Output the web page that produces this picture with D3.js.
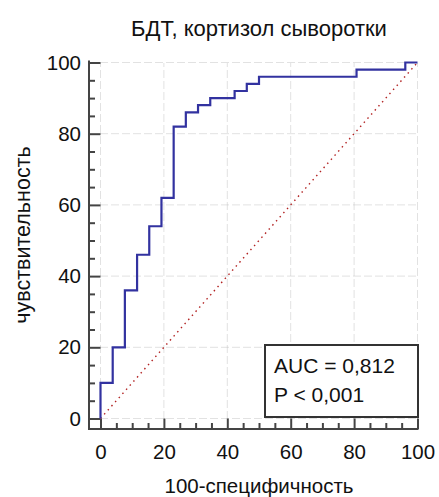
<!DOCTYPE html>
<html>
<head>
<meta charset="utf-8">
<script src="https://cdn.jsdelivr.net/npm/d3@7"></script>
<style>
  body { margin: 0; background: #fff; }
  text { font-family: "Liberation Sans", Arial, sans-serif; fill: #111; }
</style>
</head>
<body>
<script>
// ROC points (100-specificity, sensitivity)
const fpr = [0, 0, 3.85, 7.69, 11.54, 15.38, 19.23, 23.08, 26.92, 30.77, 34.62, 42.31, 46.15, 50, 80.77, 96.15, 100]
const tpr = [0, 10, 20, 36, 46, 54, 62, 82, 86, 88, 90, 92, 94, 96, 98, 100, 100]
const majorTicks = [0, 20, 40, 60, 80, 100]
const minorTicks = d3.range(0, 101, 5).filter(v => v % 20 !== 0)
const title = "БДТ, кортизол сыворотки"
const xTitle = "100-специфичность"
const yTitle = "чувствительность"
const aucLines = ["AUC = 0,812", "P < 0,001"]

const width = 439, height = 497
const axisX = 89, axisY = 429

const svg = d3.select("body").append("svg")
    .attr("width", width)
    .attr("height", height)

const x = d3.scaleLinear().domain([0, 100]).range([100.5, 417.5])
const y = d3.scaleLinear().domain([0, 100]).range([418.5, 62.5])

//------------------------------------------------------------------------------
// grid

const grid = svg.append("g")
    .attr("stroke", "#c4c4c4")
    .attr("stroke-width", 1)
    .attr("stroke-dasharray", "1,1,1,1,1,1,1,4")

grid.selectAll(".gx").data(majorTicks).join("line")
    .attr("x1", d => x(d)).attr("x2", d => x(d))
    .attr("y1", y(0)).attr("y2", y(100))

grid.selectAll(".gy").data(majorTicks).join("line")
    .attr("y1", d => y(d)).attr("y2", d => y(d))
    .attr("x1", x(0)).attr("x2", x(100))

//------------------------------------------------------------------------------
// axes

const xAxis = svg.append("g")
    .attr("transform", "translate(0," + axisY + ")")
    .call(d3.axisBottom(x).tickValues(majorTicks).tickSizeInner(-(axisY - y(0))).tickSizeOuter(0).tickPadding(15))
xAxis.append("g")
    .call(d3.axisBottom(x).tickValues(minorTicks).tickSizeInner(-6).tickSizeOuter(0).tickFormat(""))

const yAxis = svg.append("g")
    .attr("transform", "translate(" + axisX + ",0)")
    .call(d3.axisLeft(y).tickValues(majorTicks).tickSizeInner(-(x(0) - axisX)).tickSizeOuter(0).tickPadding(8))
yAxis.append("g")
    .call(d3.axisLeft(y).tickValues(minorTicks).tickSizeInner(-6).tickSizeOuter(0).tickFormat(""))

svg.selectAll(".domain").remove()
svg.selectAll(".tick line").attr("stroke", "#444").attr("stroke-width", 2)
svg.selectAll(".tick text")
    .attr("fill", "#111")
    .style("font-size", "20.5px")
    .style("font-family", "'Liberation Sans', Arial, sans-serif")

svg.append("line")
    .attr("x1", axisX).attr("x2", axisX)
    .attr("y1", y(100) - 2).attr("y2", axisY + 1)
    .attr("stroke", "#444").attr("stroke-width", 2)
svg.append("line")
    .attr("x1", axisX - 1).attr("x2", x(100) + 1)
    .attr("y1", axisY).attr("y2", axisY)
    .attr("stroke", "#444").attr("stroke-width", 2)

//------------------------------------------------------------------------------
// diagonal + roc

svg.append("line")
    .attr("x1", x(0)).attr("y1", y(0))
    .attr("x2", x(100)).attr("y2", y(100))
    .attr("stroke", "#b22222")
    .attr("stroke-width", 1.4)
    .attr("stroke-dasharray", "1.5,4")

const roc = fpr.map((f, i) => [f, tpr[i]])
svg.append("path")
    .datum(roc)
    .attr("fill", "none")
    .attr("stroke", "#3232a0")
    .attr("stroke-width", 2.2)
    .attr("d", d3.line().x(d => x(d[0])).y(d => y(d[1])).curve(d3.curveStepAfter))

//------------------------------------------------------------------------------
// auc box

svg.append("rect")
    .attr("x", 265).attr("y", 345)
    .attr("width", 153).attr("height", 72)
    .attr("fill", "#fff")
    .attr("stroke", "#333")
    .attr("stroke-width", 2)

svg.selectAll(".auc").data(aucLines).join("text")
    .attr("x", 274)
    .attr("y", (d, i) => 373 + i * 28.5)
    .style("font-size", "21px")
    .text(d => d)

//------------------------------------------------------------------------------
// titles

svg.append("text")
    .attr("x", (x(0) + x(100)) / 2)
    .attr("y", 36)
    .attr("text-anchor", "middle")
    .style("font-size", "22px")
    .text(title)

svg.append("text")
    .attr("x", (x(0) + x(100)) / 2)
    .attr("y", 493)
    .attr("text-anchor", "middle")
    .style("font-size", "20.5px")
    .text(xTitle)

svg.append("text")
    .attr("transform", "translate(30,235) rotate(-90)")
    .attr("text-anchor", "middle")
    .style("font-size", "21.5px")
    .text(yTitle)
</script>
</body>
</html>
